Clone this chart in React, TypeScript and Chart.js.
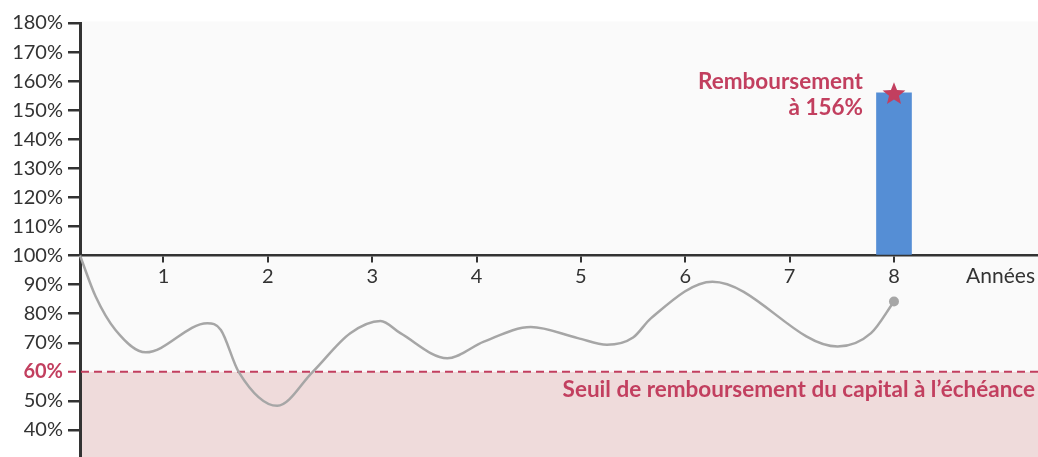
import React, { useEffect, useRef } from "react";
import { Chart, registerables } from "chart.js";
Chart.register(...registerables);

// Path of the underlying (years, % of initial level)
const pathYears = [0.2, 0.35, 0.54, 0.83, 1.42, 1.55, 1.72, 2.09, 2.43, 2.79, 3.08, 3.27, 3.72, 4.07, 4.52, 4.97, 5.25, 5.5, 5.67, 6.26, 7.46, 7.78, 8.0];
const pathValues = [100, 85.9, 74.4, 66.7, 76.7, 74.4, 60, 48.3, 60, 73.3, 77.5, 73.3, 64.7, 70.4, 75.4, 71.6, 69.3, 71.8, 78.4, 91.0, 68.7, 73.3, 84.2];

// Redemption bar
const barYears = [8];
const barValues = [156];
const barBase = 100;

const xTickValues = [1, 2, 3, 4, 5, 6, 7, 8];
const yTickValues = [40, 50, 60, 70, 80, 90, 100, 110, 120, 130, 140, 150, 160, 170, 180];
const threshold = 60;

const xAxisLabel = "Années";
const thresholdLabel = "Seuil de remboursement du capital à l’échéance";
const redemptionLabel = ["Remboursement", "à 156%"];

const FONT = "Lato";
const CRIMSON = "#c23f5f";
const DARK = "#333333";

function drawStar(ctx: CanvasRenderingContext2D, cx: number, cy: number, outer: number, inner: number) {
  ctx.beginPath();
  for (let i = 0; i < 10; i++) {
    const r = i % 2 === 0 ? outer : inner;
    const a = -Math.PI / 2 + (i * Math.PI) / 5;
    const px = cx + r * Math.cos(a);
    const py = cy + r * Math.sin(a);
    if (i === 0) ctx.moveTo(px, py);
    else ctx.lineTo(px, py);
  }
  ctx.closePath();
  ctx.fill();
}

const zeroPad = (s: any) => {
  s.paddingTop = 0;
  s.paddingBottom = 0;
  s.paddingLeft = 0;
  s.paddingRight = 0;
};

const decorPlugin = {
  id: "decor",
  beforeDraw(chart: any) {
    const { ctx, chartArea, scales } = chart;
    const y = scales.y;
    const yT = y.getPixelForValue(threshold);
    ctx.save();
    ctx.fillStyle = "#fafafa";
    ctx.fillRect(chartArea.left, chartArea.top - 1.5, chartArea.right - chartArea.left, yT - chartArea.top + 1.5);
    ctx.fillStyle = "#efdbdb";
    ctx.fillRect(chartArea.left, yT, chartArea.right - chartArea.left, chartArea.bottom - yT);
    ctx.restore();
  },
  beforeDatasetsDraw(chart: any) {
    const { ctx, chartArea, scales } = chart;
    const yT = scales.y.getPixelForValue(threshold);
    ctx.save();
    ctx.strokeStyle = CRIMSON;
    ctx.lineWidth = 2;
    ctx.setLineDash([8, 5]);
    ctx.beginPath();
    ctx.moveTo(chartArea.left - 12, yT);
    ctx.lineTo(chartArea.right, yT);
    ctx.stroke();
    ctx.restore();
  },
  afterDraw(chart: any) {
    const { ctx, chartArea, scales } = chart;
    const x = scales.x;
    const y = scales.y;
    ctx.save();
    // star on the bar top
    const bx = x.getPixelForValue(barYears[0]);
    const by = y.getPixelForValue(barValues[0]);
    ctx.fillStyle = CRIMSON;
    drawStar(ctx, bx, by + 1.5, 12, 5.2);
    // redemption label
    ctx.font = `bold 22.5px ${FONT}`;
    ctx.textAlign = "right";
    ctx.textBaseline = "alphabetic";
    ctx.fillText(redemptionLabel[0], bx - 31, by - 4);
    ctx.fillText(redemptionLabel[1], bx - 31, by + 22);
    // threshold label
    const yT = y.getPixelForValue(threshold);
    ctx.fillText(thresholdLabel, chartArea.right - 3, yT + 25);
    // x-axis title
    const y100 = y.getPixelForValue(100);
    ctx.fillStyle = DARK;
    ctx.font = `21px ${FONT}`;
    ctx.fillText(xAxisLabel, chartArea.right - 3, y100 + 27);
    ctx.restore();
  },
};

export default function App() {
  const ref = useRef<HTMLCanvasElement>(null);
  useEffect(() => {
    if (!ref.current) return;
    const pathData = pathYears.map((yr, i) => ({ x: yr, y: pathValues[i] }));
    const barData = barYears.map((yr, i) => ({ x: yr, y: barValues[i] }));
    const chart = new Chart(ref.current, {
      type: "line",
      data: {
        datasets: [
          {
            type: "bar",
            data: barData as any,
            base: barBase,
            backgroundColor: "#558ed5",
            barThickness: 35,
            order: 2,
          } as any,
          {
            type: "line",
            data: pathData as any,
            borderColor: "#a6a6a6",
            borderWidth: 2.5,
            cubicInterpolationMode: "monotone",
            pointRadius: pathYears.map((_, i) => (i === pathYears.length - 1 ? 5 : 0)),
            pointBackgroundColor: "#a6a6a6",
            pointBorderWidth: 0,
            clip: false as any,
            order: 1,
          },
        ],
      },
      options: {
        animation: false,
        responsive: false,
        events: [],
        layout: { autoPadding: false, padding: { top: 23, right: 0, bottom: 0, left: 0 } },
        plugins: { legend: { display: false }, tooltip: { enabled: false } },
        scales: {
          x: {
            type: "linear",
            position: { y: 100 } as any,
            min: 0.2,
            max: 9.38,
            offset: false,
            afterBuildTicks: (s: any) => {
              s.ticks = xTickValues.map((v) => ({ value: v }));
            },
            afterFit: zeroPad,
            ticks: {
              color: DARK,
              font: { family: FONT, size: 20 },
              padding: 3,
              maxRotation: 0,
              autoSkip: false,
              callback: (v: any) => String(v),
            },
            grid: { offset: false, drawOnChartArea: false, drawTicks: true, tickLength: 6, color: DARK, lineWidth: 2 },
            border: { color: DARK, width: 2.5 },
          },
          y: {
            type: "linear",
            min: 30.7,
            max: 180,
            afterBuildTicks: (s: any) => {
              s.ticks = yTickValues.map((v) => ({ value: v }));
            },
            afterFit: (s: any) => {
              s.width = 80;
              zeroPad(s);
            },
            ticks: {
              color: (c: any) => (c.tick && c.tick.value === threshold ? CRIMSON : DARK),
              font: (c: any) =>
                c.tick && c.tick.value === threshold
                  ? { family: FONT, size: 20, weight: "bold" }
                  : { family: FONT, size: 20 },
              padding: 5,
              autoSkip: false,
              callback: (v: any) => `${v}%`,
            },
            grid: {
              drawOnChartArea: false,
              drawTicks: true,
              tickLength: 12,
              color: (c: any) => (c.tick && c.tick.value === threshold ? "rgba(0,0,0,0)" : DARK),
              lineWidth: 2.5,
            },
            border: { color: DARK, width: 3 },
          },
        },
      },
      plugins: [decorPlugin],
    });
    return () => chart.destroy();
  }, []);
  return (
    <div style={{ position: "fixed", left: 0, top: 0, width: 1038, height: 457, background: "#fff" }}>
      <canvas ref={ref} width={1038} height={457} style={{ display: "block" }} />
    </div>
  );
}
